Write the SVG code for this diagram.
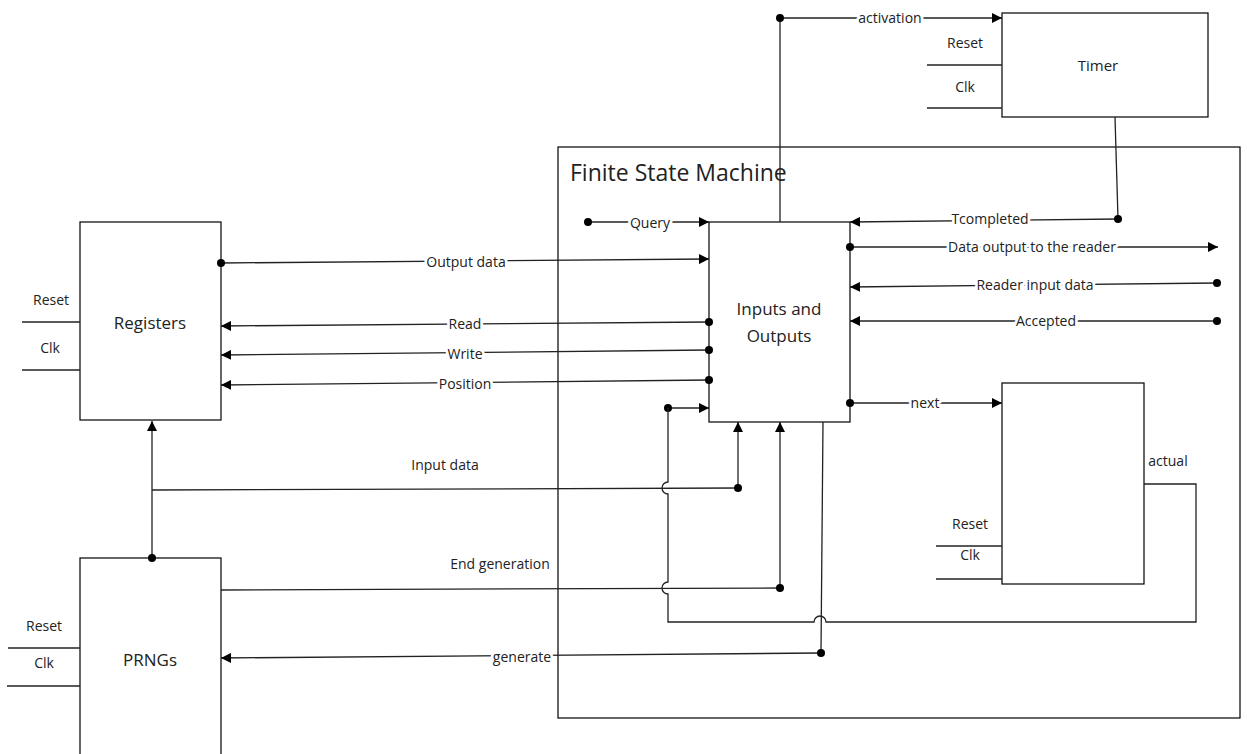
<svg xmlns="http://www.w3.org/2000/svg" width="1247" height="754" viewBox="0 0 1247 754">
<style>
.box{fill:#fff;stroke:#000;stroke-width:1.2}
.ln{fill:none;stroke:#222;stroke-width:1.3}
.arr{marker-end:url(#ah)}
.t{font-family:"Open Sans","Noto Sans",sans-serif;font-size:14px;fill:#222;text-anchor:middle;dominant-baseline:central}
.lb{paint-order:stroke;stroke:#fff;stroke-width:5.5px;stroke-linejoin:round}
.big{font-size:17px}
.dot{fill:#000}
</style>
<defs>
<marker id="ah" viewBox="0 0 10 10" refX="10" refY="5" markerWidth="10" markerHeight="10" markerUnits="userSpaceOnUse" orient="auto"><path d="M0,0 L10,5 L0,10 Z" fill="#000"/></marker>
</defs>
<rect width="1247" height="754" fill="#fff"/>

<g id="fsm">
<rect class="box" x="558" y="147" width="682" height="571" fill="none"/>
<text x="570" y="172" class="t" style="font-size:23px;text-anchor:start">Finite State Machine</text>
</g>

<g id="timer">
<rect class="box" x="1002" y="13" width="206" height="104"/>
<text x="1098" y="65" class="t" style="font-size:15px">Timer</text>
<line class="ln" x1="927" y1="65" x2="1002" y2="65"/>
<line class="ln" x1="927" y1="108" x2="1002" y2="108"/>
<text x="965" y="42" class="t">Reset</text>
<text x="965" y="86" class="t">Clk</text>
</g>

<g id="registers">
<rect class="box" x="80" y="222" width="141" height="198"/>
<text x="150" y="322" class="t big">Registers</text>
<line class="ln" x1="22" y1="322" x2="80" y2="322"/>
<line class="ln" x1="22" y1="370" x2="80" y2="370"/>
<text x="51" y="299" class="t">Reset</text>
<text x="50" y="347" class="t">Clk</text>
</g>

<g id="prngs">
<rect class="box" x="80" y="558" width="141" height="200"/>
<text x="150" y="659" class="t big">PRNGs</text>
<line class="ln" x1="8" y1="648" x2="80" y2="648"/>
<line class="ln" x1="7" y1="686" x2="80" y2="686"/>
<text x="44" y="625" class="t">Reset</text>
<text x="44" y="662" class="t">Clk</text>
</g>

<g id="io">
<rect class="box" x="709" y="222" width="141" height="200"/>
<text x="779" y="308" class="t big">Inputs and</text>
<text x="779" y="335" class="t big">Outputs</text>
</g>

<g id="state">
<rect class="box" x="1002" y="383" width="142" height="201"/>
<line class="ln" x1="936" y1="546" x2="1002" y2="546"/>
<line class="ln" x1="936" y1="579" x2="1002" y2="579"/>
<text x="970" y="523" class="t">Reset</text>
<text x="970" y="554" class="t">Clk</text>
</g>

<g id="connectors">
<path class="ln arr" d="M780,222 V18 H1002"/>
<circle class="dot" cx="780" cy="18" r="4"/>
<text x="890" y="17" class="t lb">activation</text>

<path class="ln arr" d="M588,222 H709"/>
<circle class="dot" cx="588" cy="222" r="4"/>
<text x="650" y="222" class="t lb">Query</text>

<path class="ln" d="M1115,117 L1118,219"/>
<path class="ln arr" d="M1118,219 L850,222"/>
<circle class="dot" cx="1118" cy="219" r="4"/>
<text x="990" y="218" class="t lb">Tcompleted</text>

<path class="ln arr" d="M850,247 H1218"/>
<circle class="dot" cx="850" cy="247" r="4"/>
<text x="1032" y="246" class="t lb">Data output to the reader</text>

<path class="ln arr" d="M1217,283 L850,287"/>
<circle class="dot" cx="1217" cy="283" r="4"/>
<text x="1035" y="284" class="t lb">Reader input data</text>

<path class="ln arr" d="M1217,321 H850"/>
<circle class="dot" cx="1217" cy="321" r="4"/>
<text x="1046" y="320" class="t lb">Accepted</text>

<path class="ln arr" d="M221,263 L709,259"/>
<circle class="dot" cx="221" cy="263" r="4"/>
<text x="466" y="261" class="t lb">Output data</text>

<path class="ln arr" d="M709,322 L221,326"/>
<circle class="dot" cx="709" cy="322" r="4"/>
<text x="465" y="323" class="t lb">Read</text>

<path class="ln arr" d="M709,350 L221,355"/>
<circle class="dot" cx="709" cy="350" r="4"/>
<text x="465" y="353" class="t lb">Write</text>

<path class="ln arr" d="M709,380 L221,385"/>
<circle class="dot" cx="709" cy="380" r="4"/>
<text x="465" y="383" class="t lb">Position</text>

<path class="ln arr" d="M850,403 H1002"/>
<circle class="dot" cx="850" cy="403" r="4"/>
<text x="925" y="402" class="t lb">next</text>

<path class="ln arr" d="M668,408 H709"/>
<circle class="dot" cx="668" cy="408" r="4"/>
<path class="ln" d="M1144,484 H1196 V622 H826 A6,6 0 0 0 814,622 H668 V594 A6,6 0 0 1 668,582 V494 A6,6 0 0 1 668,482 V408"/>
<text x="1168" y="460" class="t">actual</text>

<path class="ln" d="M152,490 L738,488"/>
<path class="ln arr" d="M738,488 V422"/>
<circle class="dot" cx="738" cy="488" r="4"/>
<text x="445" y="464" class="t">Input data</text>

<path class="ln" d="M221,590 L780,588"/>
<path class="ln arr" d="M780,588 V422"/>
<circle class="dot" cx="780" cy="588" r="4"/>
<text x="500" y="563" class="t">End generation</text>

<path class="ln" d="M823,422 L821,653"/>
<path class="ln arr" d="M821,653 L221,658"/>
<circle class="dot" cx="821" cy="653" r="4"/>
<text x="522" y="656" class="t lb">generate</text>

<path class="ln arr" d="M152,558 V421"/>
<circle class="dot" cx="152" cy="558" r="4"/>
</g>
</svg>
